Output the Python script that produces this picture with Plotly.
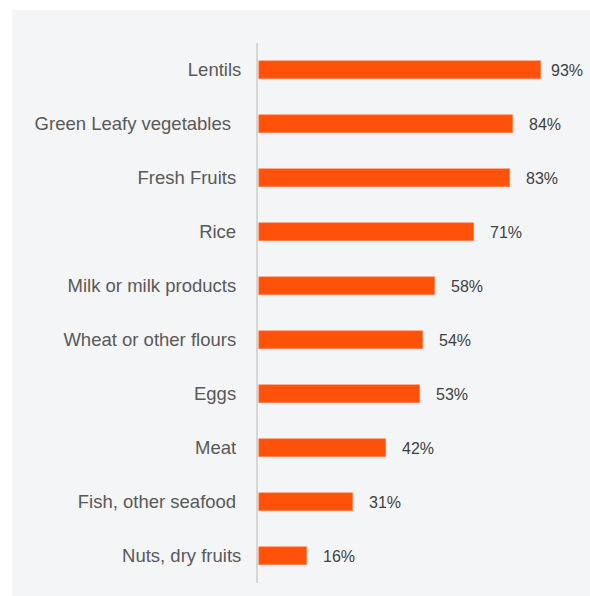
import plotly.graph_objects as go

# Share of households consuming each food group
categories = [
    "Lentils",
    "Green Leafy vegetables\u00a0\u00a0",
    "Fresh Fruits\u00a0",
    "Rice\u00a0",
    "Milk or milk products\u00a0",
    "Wheat or other flours\u00a0",
    "Eggs\u00a0",
    "Meat\u00a0",
    "Fish, other seafood\u00a0",
    "Nuts, dry fruits",
]
values = [93, 84, 83, 71, 58, 54, 53, 42, 31, 16]
value_labels = [f"{v}%" for v in values]

BAR_COLOR = "#fe520a"
PANEL_COLOR = "#f4f5f7"

fig = go.Figure()

fig.add_trace(go.Bar(
    x=values,
    y=categories,
    orientation="h",
    width=0.35,
    marker=dict(color=BAR_COLOR, line=dict(color="#ff8a5c", width=0.6)),
    hoverinfo="skip",
))

# Value labels to the right of each bar
for cat, v, lab in zip(categories, values, value_labels):
    fig.add_annotation(
        x=v, y=cat, text=lab, showarrow=False,
        xanchor="left", yanchor="middle", xshift=14 if v < 90 else 8,
        font=dict(family="Liberation Sans, Arial, sans-serif", size=16, color="#404040"),
    )

# Light panel behind the whole chart
fig.add_shape(
    type="rect", xref="paper", yref="paper",
    x0=-0.811, x1=1.1, y0=-0.03, y1=1.061,
    fillcolor=PANEL_COLOR, line=dict(width=0), layer="below",
)

fig.update_layout(
    width=590, height=596,
    margin=dict(l=258, r=29, t=43, b=13),
    paper_bgcolor="white",
    plot_bgcolor="rgba(0,0,0,0)",
    showlegend=False,
    bargap=0,
    xaxis=dict(range=[-0.3, 99.7], visible=False, fixedrange=True),
    yaxis=dict(
        autorange=False, range=[9.5, -0.5],
        showgrid=False, zeroline=False,
        showline=True, linecolor="#d6d6d6", linewidth=2,
        ticks="", ticklabelstandoff=11,
        tickfont=dict(family="Liberation Sans, Arial, sans-serif", size=18.5, color="#595959"),
        fixedrange=True,
    ),
)

fig.write_html("out.html")
